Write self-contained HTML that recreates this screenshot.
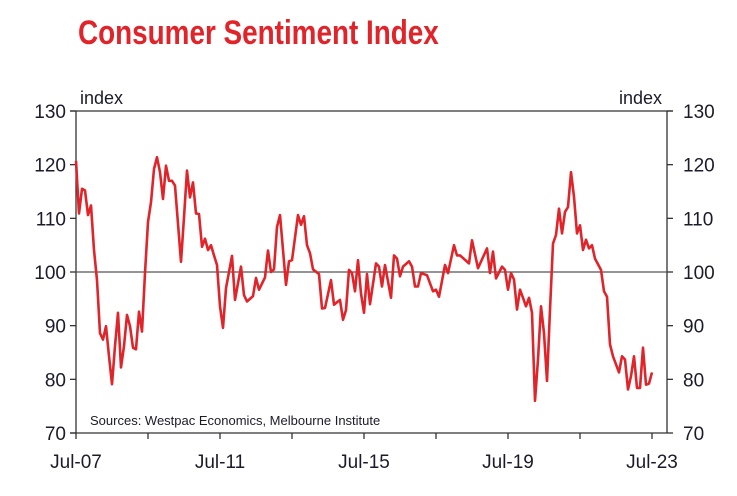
<!DOCTYPE html>
<html><head><meta charset="utf-8"><style>
body{margin:0;background:#fff;}
svg{display:block;font-family:"Liberation Sans",sans-serif;}
</style></head><body>
<svg width="737" height="496" viewBox="0 0 737 496">
<text x="78" y="44" font-size="34" font-weight="bold" fill="#e0242a" transform="translate(78,0) scale(0.82,1) translate(-78,0)">Consumer Sentiment Index</text>
<g id="axes"></g>
<g id="plot"></g>
</svg>
<script>
const months=[0,1,2,3,4,5,6,7,8,9,10,11,12,13,14,15,16,17,18,19,20,21,22,23,24,25,26,27,28,29,30,31,32,33,34,35,36,37,38,39,40,41,42,43,44,45,46,47,48,49,50,52,53,55,56,57,59,60,61,63,64,65,66,67,68,70,71,72,74,75,76,77,78,79,81,82,83,85,86,88,89,90,91,92,93,94,95,96,97,98,100,101,102,103,105,106,107,108,109,111,112,113,114,115,117,119,120,121,123,124,126,127,128,131,132,134,137,138,139,140,142,143,144,145,146,147,148,149,150,151,152,153,154,155,156,157,158,159,160,161,162,163,164,165,166,167,168,169,170,171,172,173,175,176,177,178,179,181,182,183,184,185,186,187,188,189,190,191,192];
const values=[120.7,110.9,115.5,115.2,110.6,112.4,104.1,98.5,88.6,87.4,89.9,84.3,79.1,86.2,92.4,82.2,86.2,92,89.9,85.9,85.6,92.6,88.9,99.8,109.3,113,119.2,121.4,118.6,113.6,119.8,117,117,116.1,109,101.9,110.2,118.9,113.9,116.7,110.9,110.8,104.7,106.2,104.1,105,103.1,101.3,93.6,89.6,97,103,94.8,101,95.7,94.5,95.5,98.9,96.7,99,104,100,100.5,108.4,110.6,97.6,102,102.2,110.6,108.8,110.4,105,103.5,100.5,99.6,93.2,93.3,98.5,93.9,94.8,91.1,92.9,100.4,99.8,96.4,102.2,96,92.4,99.6,94,101.6,101,97.3,101.3,95.2,103.1,102.5,99.2,101,102,101,97.3,97.3,99.8,99.4,96.4,96.7,95.4,101.3,99.8,105,103.1,103.1,101.6,105.9,100.7,104.4,99.8,103.8,98.8,101,100.4,96.7,99.8,98.6,93,96.7,95.2,93.6,95.2,92.4,76,83.7,93.6,88.6,79.7,93,105.3,106.9,111.8,107.2,111.2,112.1,118.6,114,107.2,108.7,104.1,106,104.4,105,102.5,100.4,96.4,95.4,86.5,84.3,81.3,84.3,83.7,78.1,80.6,84.3,78.4,78.4,85.9,79,79.2,81.3];
const yTicks=[70,80,90,100,110,120,130];
const xTickLabels=["Jul-07","Jul-11","Jul-15","Jul-19","Jul-23"];
const xTickLabelMonths=[0,48,96,144,192];

const NS="http://www.w3.org/2000/svg";
const L=76,R=667,T=111,B=433;
const x=m=>L+m*3;
const y=v=>B-(v-70)*(B-T)/60;
function mk(tag,attrs,parent,txt){const e=document.createElementNS(NS,tag);for(const k in attrs)e.setAttribute(k,attrs[k]);if(txt!==undefined)e.textContent=txt;parent.appendChild(e);return e;}
const ax=document.getElementById('axes');
const col="#333";
let e;
e=mk('line',{x1:L,y1:T,x2:L,y2:B,stroke:col,'stroke-width':1.3},ax);


e=mk('line',{x1:R,y1:T,x2:R,y2:B,stroke:col,'stroke-width':1.3},ax);


e=mk('line',{x1:70,y1:B,x2:R,y2:B,stroke:col,'stroke-width':1.3},ax);


e=mk('line',{x1:70,y1:T,x2:673,y2:T,stroke:col,'stroke-width':1.3},ax);


e=mk('line',{x1:L,y1:y(100),x2:R,y2:y(100),stroke:'#555','stroke-width':1.2},ax);


yTicks.forEach(v=>{
  mk('line',{x1:70,y1:y(v),x2:L,y2:y(v),stroke:col,'stroke-width':1.3},ax);
  mk('line',{x1:R,y1:y(v),x2:673,y2:y(v),stroke:col,'stroke-width':1.3},ax);
  e=mk('text',{x:66,y:y(v)+7,'font-size':19,'text-anchor':'end',fill:'#1b1b2b'},ax,String(v));
  
  
  e=mk('text',{x:683,y:y(v)+7,'font-size':19,fill:'#1b1b2b'},ax,String(v));
  
  
});
for(let m=0;m<=192;m+=24){mk('line',{x1:x(m),y1:B,x2:x(m),y2:B+6,stroke:col,'stroke-width':1.3},ax);}
xTickLabels.forEach((t,i)=>{
  e=mk('text',{x:x(xTickLabelMonths[i]),y:468,'font-size':19,'text-anchor':'middle',fill:'#1b1b2b'},ax,t);
  
  
});
e=mk('text',{x:80,y:104,'font-size':18,fill:'#1b1b2b'},ax,'index');


e=mk('text',{x:662,y:104,'font-size':18,'text-anchor':'end',fill:'#1b1b2b'},ax,'index');


e=mk('text',{x:90,y:425,'font-size':13,fill:'#1b1b2b'},ax,'Sources: Westpac Economics, Melbourne Institute');


const pts=months.map((m,i)=>x(m).toFixed(1)+','+y(values[i]).toFixed(1)).join(' ');
e=mk('polyline',{points:pts,fill:'none',stroke:'#e0242a','stroke-width':2.6,'stroke-linejoin':'round'},document.getElementById('plot'));


</script>
</body></html>
